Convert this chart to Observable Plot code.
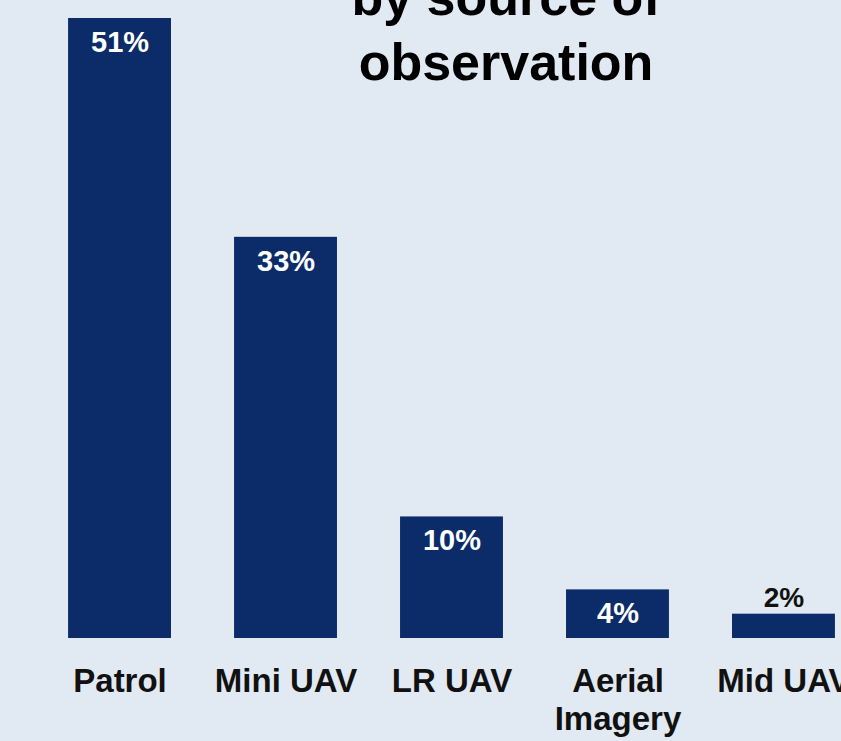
<!DOCTYPE html>
<html>
<head>
<meta charset="utf-8">
<script src="https://cdn.jsdelivr.net/npm/d3@7"></script>
<script src="https://cdn.jsdelivr.net/npm/@observablehq/plot@0.6"></script>
<style>
  html, body { margin: 0; padding: 0; background: #e1e9f2; overflow: hidden; }
  #wrap { position: relative; width: 841px; height: 741px; background: #e1e9f2; }
  #title { position: absolute; left: 256px; width: 500px; top: -35px; text-align: center;
           font-family: "Liberation Sans", Arial, sans-serif; font-weight: bold; font-size: 52px;
           line-height: 65px; color: #000; z-index: 2; }
  #chart svg { display: block; }
</style>
</head>
<body>
<div id="wrap">
  <div id="title">by source of<br>observation</div>
  <div id="chart"></div>
</div>
<script>
const categories = ["Patrol", "Mini UAV", "LR UAV", "Aerial Imagery", "Mid UAV"];
const tickLabels = ["Patrol", "Mini UAV", "LR UAV", "Aerial\nImagery", "Mid UAV"];
const shares = [51, 33, 10, 4, 2];

const data = categories.map((c, i) => ({category: c, value: shares[i], label: shares[i] + "%"}));
const inside = data.filter(d => d.value >= 3);
const outside = data.filter(d => d.value < 3);

const navy = "#0b2c69";
const font = "Liberation Sans, Arial, sans-serif";

const chart = Plot.plot({
  width: 841,
  height: 741,
  marginTop: 18,
  marginBottom: 103,
  marginLeft: 0,
  marginRight: 0,
  style: {background: "#e1e9f2", fontFamily: font, overflow: "hidden"},
  x: {type: "band", domain: categories, range: [5, 898], padding: 0.38, round: false},
  y: {domain: [0, 51], axis: null},
  marks: [
    Plot.barY(data, {x: "category", y: "value", fill: navy}),
    Plot.text(inside, {x: "category", y: "value", text: "label", dy: 24, fill: "white",
      fontSize: 29, fontWeight: "bold"}),
    Plot.text(outside, {x: "category", y: "value", text: "label", dy: -16, fill: "#111",
      fontSize: 28, fontWeight: "bold"}),
    Plot.axisX({tickSize: 0, tickPadding: 27, fontSize: 33, fontWeight: "bold", lineHeight: 1.15,
      tickFormat: c => tickLabels[categories.indexOf(c)], label: null, fill: "#111"})
  ]
});
document.getElementById("chart").appendChild(chart);
</script>
</body>
</html>
